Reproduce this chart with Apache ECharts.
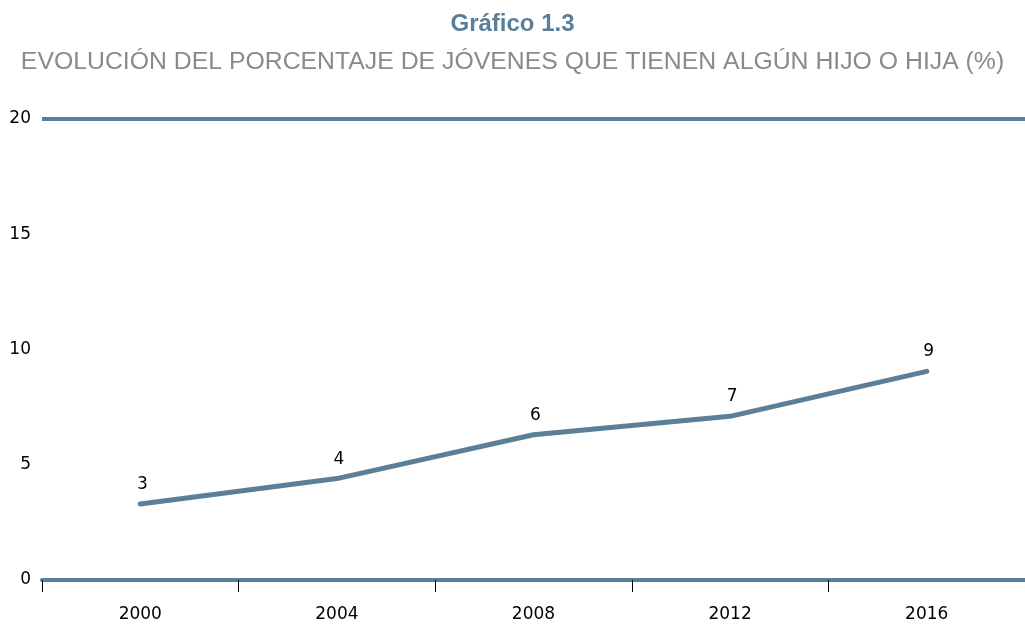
<!DOCTYPE html>
<html><head><meta charset="utf-8">
<script src="https://cdn.jsdelivr.net/npm/echarts@6/dist/echarts.min.js"></script>
<style>html,body{margin:0;padding:0;background:#fff}#c{width:1025px;height:625px}</style>
</head><body><div id="c"></div>
<script>
const categories = ['2000', '2004', '2008', '2012', '2016'];
const values = [3.3, 4.4, 6.3, 7.1, 9.05];
const yTicks = [0, 5, 10, 15, 20];
const titleText = 'Gráfico 1.3';
const subtitleText = 'EVOLUCIÓN DEL PORCENTAJE DE JÓVENES QUE TIENEN ALGÚN HIJO O HIJA (%)';

const COLOR = '#5b7f99';
const chart = echarts.init(document.getElementById('c'), null, {renderer: 'canvas'});
chart.setOption({
  animation: false,
  title: [
    {text: titleText, left: 'center', top: 7, textStyle: {fontFamily: 'Liberation Sans', fontWeight: 'bold', fontSize: 24, color: COLOR}},
    {text: subtitleText, left: 'center', top: 45, textStyle: {fontFamily: 'Liberation Sans', fontWeight: 'normal', fontSize: 24.8, color: '#8a8a8a'}}
  ],
  grid: {left: 42, right: 0, top: 119, bottom: 45, containLabel: false},
  xAxis: {
    type: 'category', data: categories, boundaryGap: true,
    axisLine: {lineStyle: {color: COLOR, width: 4}},
    axisTick: {show: true, length: 12, interval: 0, lineStyle: {color: '#000', width: 1}},
    axisLabel: {color: '#000', fontFamily: 'DejaVu Sans', fontSize: 17, margin: 26}
  },
  yAxis: {
    type: 'value', min: yTicks[0], max: yTicks[yTicks.length - 1], interval: 5,
    axisLine: {show: false}, axisTick: {show: false}, splitLine: {show: false},
    axisLabel: {color: '#000', fontFamily: 'DejaVu Sans', fontSize: 17, margin: 11}
  },
  series: [{
    type: 'line', data: values, symbol: 'circle', symbolSize: 0, showSymbol: true,
    lineStyle: {color: COLOR, width: 5, cap: 'round'},
    itemStyle: {color: COLOR},
    label: {show: true, position: 'top', distance: 11, offset: [2, 0], color: '#000', fontFamily: 'DejaVu Sans', fontSize: 17,
      formatter: p => String(Math.round(p.value))},
    markLine: {
      silent: true, symbol: 'none', label: {show: false},
      lineStyle: {color: COLOR, width: 4, type: 'solid'},
      data: [{yAxis: yTicks[yTicks.length - 1]}]
    }
  }]
});
</script></body></html>
